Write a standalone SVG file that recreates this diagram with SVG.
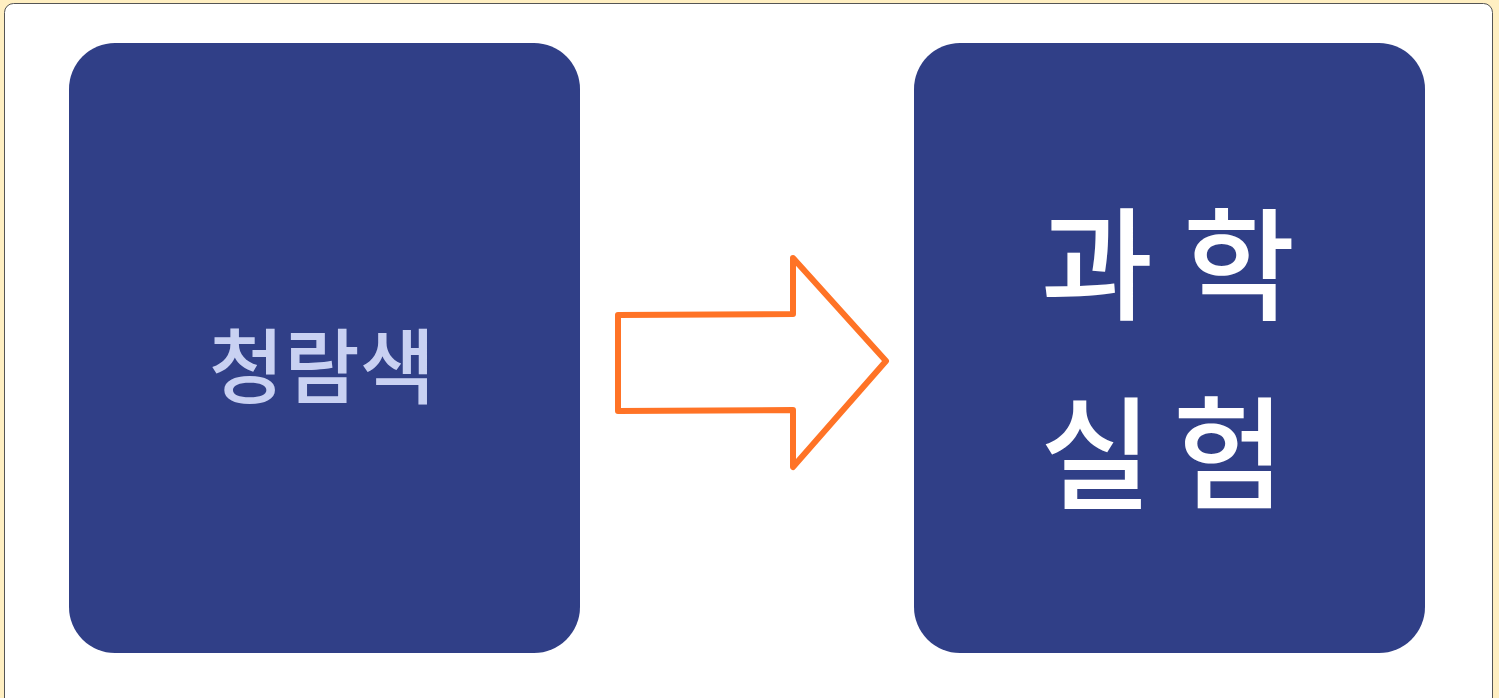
<svg xmlns="http://www.w3.org/2000/svg" width="1499" height="698" viewBox="0 0 1499 698">
  <style>
    .box { fill: #303F87; }
    .lbl { font-family: "Noto Sans CJK KR", "Noto Sans", sans-serif; font-weight: 500; text-anchor: middle; dominant-baseline: central; }
    .arrow { fill: #FFFFFF; stroke: #FF7326; stroke-width: 6; stroke-linejoin: round; }
  </style>
  <rect x="0" y="0" width="1499" height="698" fill="#FFEFC2"/>
  <rect x="4.5" y="3.5" width="1488" height="710" rx="9" fill="#FFFFFF" stroke="#555555" stroke-width="1"/>
  <g id="node-left">
    <rect class="box" x="69" y="43" width="511" height="610" rx="46"/>
    <text class="lbl" x="322" y="361" font-size="82" fill="#C9D1F2">청람색</text>
  </g>
  <g id="connectors">
    <polygon class="arrow" points="618,315 793,314 793,258 886,361 793,467 793,410 618,411"/>
  </g>
  <g id="node-right">
    <rect class="box" x="914" y="43" width="511" height="610" rx="46"/>
    <text class="lbl" y="256" font-size="122" fill="#FFFFFF"><tspan x="1097">과</tspan><tspan x="1239">학</tspan></text>
    <text class="lbl" y="445" font-size="122" fill="#FFFFFF"><tspan x="1096">실</tspan><tspan x="1229">험</tspan></text>
  </g>
</svg>
